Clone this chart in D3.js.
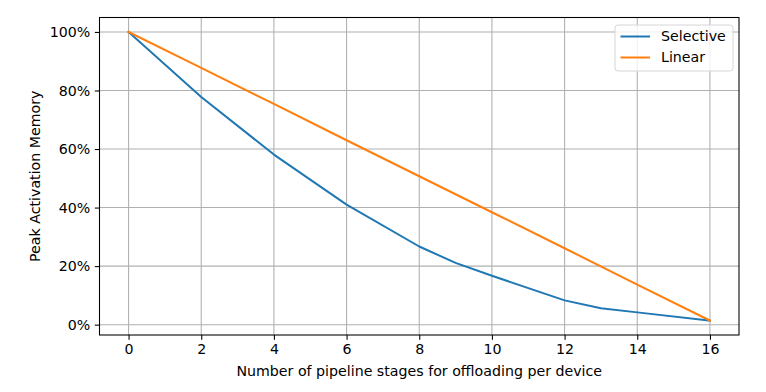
<!DOCTYPE html>
<html>
<head>
<meta charset="utf-8">
<script src="https://cdn.jsdelivr.net/npm/d3@7"></script>
<style>
  body { margin: 0; background: #fff; }
  svg { display: block; font-family: "DejaVu Sans", sans-serif; }
</style>
</head>
<body>
<svg id="chart" width="766" height="392"></svg>
<script>
// data
const selectiveX = [0, 2, 4, 6, 8, 9, 10, 12, 13, 14, 16];
const selectiveY = [100, 77.8, 58.1, 41.0, 26.7, 21.1, 16.7, 8.3, 5.6, 4.2, 1.4];
const linearX = [0, 2, 4, 6, 8, 10, 12, 14, 16];
const linearY = [100, 87.7, 75.4, 63.0, 50.7, 38.4, 26.1, 13.7, 1.4];
const xTicks = [0, 2, 4, 6, 8, 10, 12, 14, 16];
const yTicks = [0, 20, 40, 60, 80, 100];
const seriesNames = ['Selective', 'Linear'];
const seriesColors = ['#1f77b4', '#ff7f0e'];

const margin = { left: 99.5, right: 27, top: 17.5, bottom: 57 };
const width = 766, height = 392;
const svg = d3.select('#chart');

const x = d3.scaleLinear().domain([-0.8, 16.8]).range([margin.left, width - margin.right]);
const y = d3.scaleLinear().domain([-3.53, 104.93]).range([height - margin.bottom, margin.top]);

const fontSize = 14.2;

// grid
const grid = svg.append('g').attr('stroke', '#b0b0b0').attr('stroke-width', 1.07);
xTicks.forEach(t => {
  grid.append('line').attr('x1', x(t)).attr('x2', x(t))
    .attr('y1', margin.top).attr('y2', height - margin.bottom);
});
yTicks.forEach(t => {
  grid.append('line').attr('y1', y(t)).attr('y2', y(t))
    .attr('x1', margin.left).attr('x2', width - margin.right);
});

// lines
const line = d3.line().x(d => x(d[0])).y(d => y(d[1]));
const series = [
  d3.zip(selectiveX, selectiveY),
  d3.zip(linearX, linearY),
];
series.forEach((s, i) => {
  svg.append('path').datum(s)
    .attr('d', line)
    .attr('fill', 'none')
    .attr('stroke', seriesColors[i])
    .attr('stroke-width', 2)
    .attr('stroke-linejoin', 'round')
    .attr('stroke-linecap', 'square');
});

// axes
const xAxis = svg.append('g')
  .attr('transform', `translate(0,${height - margin.bottom})`)
  .call(d3.axisBottom(x).tickValues(xTicks).tickSize(4.7).tickPadding(4.5).tickFormat(d3.format('d')));
const yAxis = svg.append('g')
  .attr('transform', `translate(${margin.left},0)`)
  .call(d3.axisLeft(y).tickValues(yTicks).tickSize(4.7).tickPadding(4.5).tickFormat(d => d + '%'));

[xAxis, yAxis].forEach(a => {
  a.select('.domain').remove();
  a.selectAll('.tick line').attr('stroke', '#000').attr('stroke-width', 1.07);
  a.selectAll('.tick text').attr('fill', '#000')
    .style('font-size', fontSize + 'px').style('font-family', '"DejaVu Sans", sans-serif');
});

// spines
svg.append('rect')
  .attr('x', margin.left).attr('y', margin.top)
  .attr('width', width - margin.left - margin.right)
  .attr('height', height - margin.top - margin.bottom)
  .attr('fill', 'none').attr('stroke', '#000').attr('stroke-width', 1.07);

// axis labels
svg.append('text')
  .attr('x', (margin.left + width - margin.right) / 2)
  .attr('y', 376)
  .attr('text-anchor', 'middle')
  .style('font-size', fontSize + 'px')
  .text('Number of pipeline stages for offloading per device');

svg.append('text')
  .attr('transform', `translate(40,${(margin.top + height - margin.bottom) / 2}) rotate(-90)`)
  .attr('text-anchor', 'middle')
  .style('font-size', fontSize + 'px')
  .text('Peak Activation Memory');

// legend
const legend = svg.append('g').attr('transform', 'translate(615,25)');
legend.append('rect')
  .attr('width', 118).attr('height', 46).attr('rx', 3)
  .attr('fill', '#fff').attr('fill-opacity', 0.8)
  .attr('stroke', '#d6d6d6').attr('stroke-width', 1);
seriesNames.forEach((name, i) => {
  const row = legend.append('g').attr('transform', `translate(0,${11.5 + i * 21})`);
  row.append('line').attr('x1', 5.5).attr('x2', 35)
    .attr('stroke', seriesColors[i]).attr('stroke-width', 2);
  row.append('text').attr('x', 46).attr('dy', '0.35em')
    .style('font-size', fontSize + 'px').text(name);
});
</script>
</body>
</html>
